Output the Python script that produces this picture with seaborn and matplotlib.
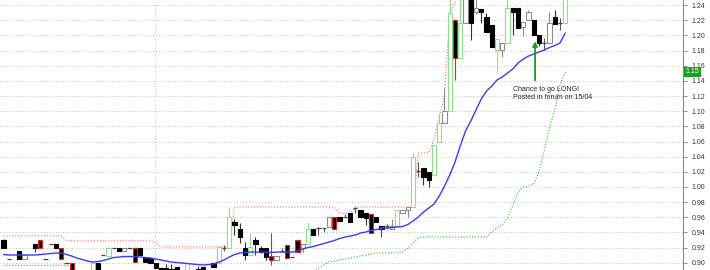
import numpy as np
import pandas as pd
import seaborn as sns
import matplotlib
matplotlib.use("Agg")
import matplotlib.pyplot as plt
import matplotlib.transforms as mtransforms

# ---------------- data ----------------
opens = [
    0.930, 0.9045, 0.889, 0.9155, 0.9045, 0.889, 0.9248, 0.930, 0.9045, 0.9247,
    0.9247, 0.9198, 0.900, 0.899, 0.888, 0.888, 0.888, 0.887, 0.900, 0.910,
    0.909, 0.9198, 0.9198, 0.9155, 0.919, 0.9198, 0.9198, 0.9066, 0.906, 0.8995,
    0.893, 0.893, 0.892, 0.894, 0.888, 0.887, 0.888, 0.892, 0.8945, 0.888,
    0.900, 0.8995, 0.9198, 0.919, 0.954, 0.944, 0.9198, 0.910, 0.930, 0.919,
    0.919, 0.909, 0.9036, 0.9155, 0.9234, 0.907, 0.930, 0.919, 0.9247, 0.944,
    0.9454, 0.9454, 0.9475, 0.960, 0.960, 0.961, 0.965, 0.972, 0.9695, 0.965,
    0.964, 0.960, 0.944, 0.948, 0.9445, 0.9485, 0.9652, 0.9695, 0.974, 1.021,
    1.0246, 1.020, 1.0158, 1.0597, 1.0847, 1.100, 1.220, 1.1697, 1.216, 1.26,
    1.231, 1.235, 1.2247, 1.2137, 1.1807, 1.1807, 1.1905, 1.236, 1.236, 1.2115,
    1.2203, 1.2203, 1.2005, 1.1895, 1.1905, 1.2247, 1.2167, 1.2167]

highs = [
    0.931, 0.9045, 0.889, 0.9155, 0.910, 0.889, 0.925, 0.930, 0.9045, 0.9247,
    0.9247, 0.9198, 0.900, 0.899, 0.888, 0.888, 0.888, 0.899, 0.900, 0.910,
    0.9198, 0.9198, 0.9198, 0.919, 0.919, 0.9198, 0.9198, 0.9066, 0.906, 0.8995,
    0.893, 0.898, 0.898, 0.894, 0.888, 0.8995, 0.888, 0.896, 0.8945, 0.888,
    0.900, 0.9225, 0.923, 0.974, 0.958, 0.952, 0.9277, 0.9388, 0.9335, 0.922,
    0.919, 0.9388, 0.909, 0.9195, 0.9234, 0.907, 0.930, 0.9243, 0.954, 0.944,
    0.947, 0.946, 0.960, 0.960, 0.960, 0.964, 0.965, 0.974, 0.9695, 0.965,
    0.964, 0.960, 0.9485, 0.951, 0.958, 0.9695, 0.9695, 0.974, 1.0444, 1.033,
    1.0246, 1.020, 1.0553, 1.097, 1.130, 1.26, 1.222, 1.26, 1.26, 1.26,
    1.26, 1.235, 1.229, 1.2137, 1.1949, 1.1905, 1.26, 1.236, 1.236, 1.2174,
    1.234, 1.2203, 1.2005, 1.196, 1.231, 1.233, 1.2225, 1.26]

lows = [
    0.919, 0.9045, 0.885, 0.9045, 0.9045, 0.885, 0.9145, 0.919, 0.9045, 0.9247,
    0.919, 0.9045, 0.900, 0.885, 0.884, 0.884, 0.884, 0.885, 0.885, 0.910,
    0.909, 0.9198, 0.9155, 0.9155, 0.919, 0.9005, 0.9102, 0.9005, 0.899, 0.893,
    0.886, 0.886, 0.885, 0.885, 0.884, 0.885, 0.884, 0.885, 0.885, 0.884,
    0.8945, 0.8995, 0.916, 0.919, 0.9365, 0.926, 0.9036, 0.910, 0.910, 0.913,
    0.9036, 0.897, 0.9036, 0.9155, 0.906, 0.907, 0.9145, 0.9145, 0.9247, 0.9365,
    0.937, 0.941, 0.9475, 0.944, 0.9545, 0.961, 0.954, 0.966, 0.9607, 0.950,
    0.9388, 0.954, 0.934, 0.944, 0.9445, 0.9485, 0.9652, 0.9603, 0.974, 1.013,
    1.0026, 1.0003, 1.0158, 1.0597, 1.0847, 1.100, 1.141, 1.1697, 1.216, 1.194,
    1.228, 1.216, 1.2049, 1.185, 1.150, 1.1716, 1.1905, 1.200, 1.2093, 1.199,
    1.2203, 1.2005, 1.1856, 1.181, 1.1905, 1.215, 1.207, 1.2167]

closes = [
    0.920, 0.9045, 0.886, 0.9045, 0.910, 0.886, 0.919, 0.919, 0.9045, 0.9247,
    0.919, 0.9045, 0.900, 0.887, 0.885, 0.885, 0.885, 0.899, 0.888, 0.910,
    0.9198, 0.9198, 0.9155, 0.919, 0.919, 0.9005, 0.9102, 0.9005, 0.899, 0.8935,
    0.888, 0.888, 0.887, 0.887, 0.885, 0.8995, 0.885, 0.887, 0.887, 0.885,
    0.8945, 0.921, 0.9198, 0.960, 0.9498, 0.9343, 0.910, 0.921, 0.9247, 0.9145,
    0.908, 0.9036, 0.909, 0.9155, 0.906, 0.907, 0.9145, 0.9243, 0.944, 0.9365,
    0.9454, 0.9454, 0.960, 0.944, 0.9545, 0.961, 0.954, 0.972, 0.9607, 0.9585,
    0.9388, 0.954, 0.9485, 0.948, 0.9485, 0.9695, 0.9695, 0.974, 1.040, 1.021,
    1.0135, 1.009, 1.0553, 1.084, 1.100, 1.229, 1.1697, 1.216, 1.26, 1.2159,
    1.236, 1.2305, 1.2049, 1.185, 1.1949, 1.1905, 1.2357, 1.2313, 1.2093, 1.2174,
    1.231, 1.2005, 1.1905, 1.1895, 1.2168, 1.215, 1.2167, 1.26]

# candle class: g = up (green), w = up (grey), k = down, r = down (red), d = dark green, - = doji
kinds = list("k-kkwkkr--" "kr-rkkkgk-" "g-kw-rkkkk" "kkkkkgkkkk" "kg-gkkkgkk"
             "krw-r-rwgk" "--wrk-k-kk" "rkd-wgwwg-" "kkggwgrgwk" "wkkkgwgkkw" "wkk-wk-g")

moving_avg = [
    0.9108, 0.9102, 0.9102, 0.9102, 0.9102, 0.9102, 0.9102, 0.9108, 0.9115, 0.9121,
    0.9128, 0.9128, 0.9108, 0.9088, 0.9062, 0.9042, 0.9022, 0.9009, 0.9016, 0.9029,
    0.9049, 0.9069, 0.9075, 0.9082, 0.9082, 0.9082, 0.9075, 0.9069, 0.9062, 0.9049,
    0.9036, 0.9022, 0.9009, 0.9003, 0.8996, 0.8990, 0.8983, 0.8976, 0.8970, 0.8976,
    0.8983, 0.9009, 0.9036, 0.9075, 0.9108, 0.9128, 0.9135, 0.9141, 0.9141, 0.9141,
    0.9141, 0.9135, 0.9141, 0.9141, 0.9141, 0.9141, 0.9154, 0.9181, 0.9201, 0.9214,
    0.9234, 0.9253, 0.9273, 0.9293, 0.9319, 0.9339, 0.9352, 0.9366, 0.9392, 0.9405,
    0.9425, 0.9438, 0.9451, 0.9458, 0.9465, 0.9471, 0.9478, 0.9504, 0.9550, 0.9603,
    0.9669, 0.9722, 0.9775, 0.9880, 1.0012, 1.0158, 1.0329, 1.0540, 1.0738, 1.0870,
    1.1016, 1.1161, 1.1266, 1.1332, 1.1412, 1.1451, 1.1504, 1.1557, 1.1636, 1.1689,
    1.1728, 1.1755, 1.1781, 1.1808, 1.1841, 1.1867, 1.1900, 1.2032]

upper_stop = [
    0.9355, 0.9355, 0.9355, 0.9355, 0.9355, 0.9355, 0.9355, 0.9355, 0.9355, 0.9355,
    0.9355, 0.9355, 0.929, 0.929, 0.929, 0.929, 0.929, 0.929, 0.929, 0.929,
    0.929, 0.929, 0.929, 0.929, 0.929, 0.929, 0.929, 0.929, 0.929, 0.926,
    0.921, 0.921, 0.921, 0.921, 0.921, 0.921, 0.921, 0.921, 0.921, 0.921,
    0.921, 0.921, 0.921, 0.921, 0.9735, 0.9735, 0.9735, 0.9735, 0.9735, 0.9735,
    0.9735, 0.9735, 0.9735, 0.9735, 0.9735, 0.9735, 0.9735, 0.9735, 0.9735, 0.9735,
    0.9735, 0.9735, 0.9735, 0.9735, 0.965, 0.965, 0.965, 0.9735, 0.9735, 0.9735,
    0.9735, 0.9735, 0.9735, 0.9735, 0.9735, 0.9735, 0.9735, 0.9735, 0.9735, 1.045,
    1.045, 1.045, 1.062, 1.092, 1.121, 1.229, 1.243, 1.26, 1.26, 1.26,
    1.26, 1.26, 1.26, 1.26, 1.26, 1.26, 1.26, 1.26, 1.26, 1.26,
    1.26, 1.26, 1.26, 1.26, 1.26, 1.26, 1.26, 1.26]

lower_stop = [
    0.8965, 0.8965, 0.8965, 0.8965, 0.8965, 0.8965, 0.8965, 0.8965, 0.8965, 0.8965,
    0.8965, 0.8965, 0.8965, 0.8965, 0.885, 0.885, 0.885, 0.885, 0.885, 0.885,
    0.885, 0.885, 0.885, 0.885, 0.885, 0.885, 0.885, 0.885, 0.885, 0.885,
    0.885, 0.885, 0.885, 0.885, 0.885, 0.885, 0.885, 0.885, 0.885, 0.885,
    0.885, 0.885, 0.885, 0.885, 0.885, 0.885, 0.885, 0.885, 0.885, 0.885,
    0.885, 0.885, 0.885, 0.885, 0.885, 0.885, 0.885, 0.885, 0.885, 0.889,
    0.893, 0.897, 0.901, 0.902, 0.9036, 0.905, 0.906, 0.9075, 0.909, 0.910,
    0.9115, 0.913, 0.913, 0.913, 0.913, 0.913, 0.914, 0.919, 0.926, 0.9326,
    0.934, 0.934, 0.934, 0.934, 0.934, 0.934, 0.934, 0.934, 0.934, 0.934,
    0.934, 0.934, 0.934, 0.9405, 0.9458, 0.9498, 0.959, 0.976, 0.9933, 1.000,
    1.0012, 1.0039, 1.0197, 1.0488, 1.0778, 1.1016, 1.1346, 1.1518]

price_ticks = [0.90, 0.92, 0.94, 0.96, 0.98, 1.00, 1.02, 1.04, 1.06, 1.08,
               1.10, 1.12, 1.14, 1.16, 1.18, 1.20, 1.22, 1.24]

note_text = "Chance to go LONG!\nPosted in forum on 15/04"

# ---------------- figure ----------------
sns.set_style("white")
plt.rcParams["font.family"] = ["Liberation Sans", "DejaVu Sans"]

fig = plt.figure(figsize=(7.1, 2.7), dpi=100)
ax = fig.add_axes([0, 0, 683 / 710, 1])

n = len(opens)
df = pd.DataFrame({"idx": np.arange(n), "open": opens, "high": highs, "low": lows,
                   "close": closes, "kind": kinds, "ma": moving_avg,
                   "upper": upper_stop, "lower": lower_stop})

# grid
for t in price_ticks:
    ax.axhline(t, color="#bdbdbd", lw=0.7, ls=(0, (1, 2.2)), zorder=0)
ax.axvline(28.86, color="#bdbdbd", lw=0.7, ls=(0, (1, 2.2)), zorder=0)

# indicator lines
sns.lineplot(data=df, x="idx", y="upper", ax=ax, color="#ff6a6a", lw=0.8,
             linestyle=(0, (1, 1.6)), zorder=2)
sns.lineplot(data=df, x="idx", y="lower", ax=ax, color="#3cb43c", lw=0.8,
             linestyle=(0, (1, 1.6)), zorder=2)

style = {
    "g": ("white", "#8ee08e", "#8ee08e"),
    "w": ("white", "#8c8c8c", "#8c8c8c"),
    "k": ("black", "black", "#333333"),
    "r": ("black", "#e82020", "#e82020"),
    "d": ("#0d6e0d", "black", "#555555"),
    "-": (None, None, "#555555"),
}

for i, row in df.iterrows():
    fc, ec, wc = style[row["kind"]]
    ax.vlines(row["idx"], row["low"], row["high"], color=wc, lw=0.8, zorder=3)
    if row["kind"] == "-":
        ax.hlines(row["close"], row["idx"] - 0.42, row["idx"] + 0.42,
                  color="#444444", lw=0.9, zorder=4)
    else:
        lo = min(row["open"], row["close"])
        h = abs(row["close"] - row["open"])
        ax.bar(row["idx"], h, bottom=lo, width=0.78, facecolor=fc,
               edgecolor=ec, linewidth=0.8, zorder=4)

sns.lineplot(data=df, x="idx", y="ma", ax=ax, color="#3b3bf5", lw=1.0, zorder=5)

# annotation
ax.annotate("", xy=(101.25, 1.196), xytext=(101.25, 1.137),
            arrowprops=dict(arrowstyle="-|>", color="#1f9a1f", lw=1.3,
                            mutation_scale=7), zorder=6)
ax.text(97.1, 1.1335, note_text, fontsize=5, color="#222222", ha="left", va="top",
        linespacing=1.15, zorder=6)

# axes styling
ax.set_xlim(-0.667, 129.43)
ax.set_ylim(0.8904, 1.2468)
ax.set_xlabel("")
ax.set_ylabel("")
ax.set_xticks([])
ax.yaxis.tick_right()
ax.set_yticks(price_ticks)
ax.set_yticklabels([f"{t:.2f}" for t in price_ticks])
ax.tick_params(axis="y", length=3, width=0.6, colors="#777777", labelsize=5,
               labelcolor="#333333", pad=3)
for s in ["top", "left", "bottom"]:
    ax.spines[s].set_visible(False)
ax.spines["right"].set_color("#8a8a8a")
ax.spines["right"].set_linewidth(0.8)

# last-value label of the lower stop
trans = mtransforms.blended_transform_factory(ax.transAxes, ax.transData)
ax.text(1.004, lower_stop[-1], f"{lower_stop[-1]:.2f}", transform=trans, fontsize=5,
        color="white", ha="left", va="center", clip_on=False, zorder=7,
        bbox=dict(boxstyle="square,pad=0.18", facecolor="#1e9e1e", edgecolor="none"))

fig.savefig("out.png", dpi=100)
